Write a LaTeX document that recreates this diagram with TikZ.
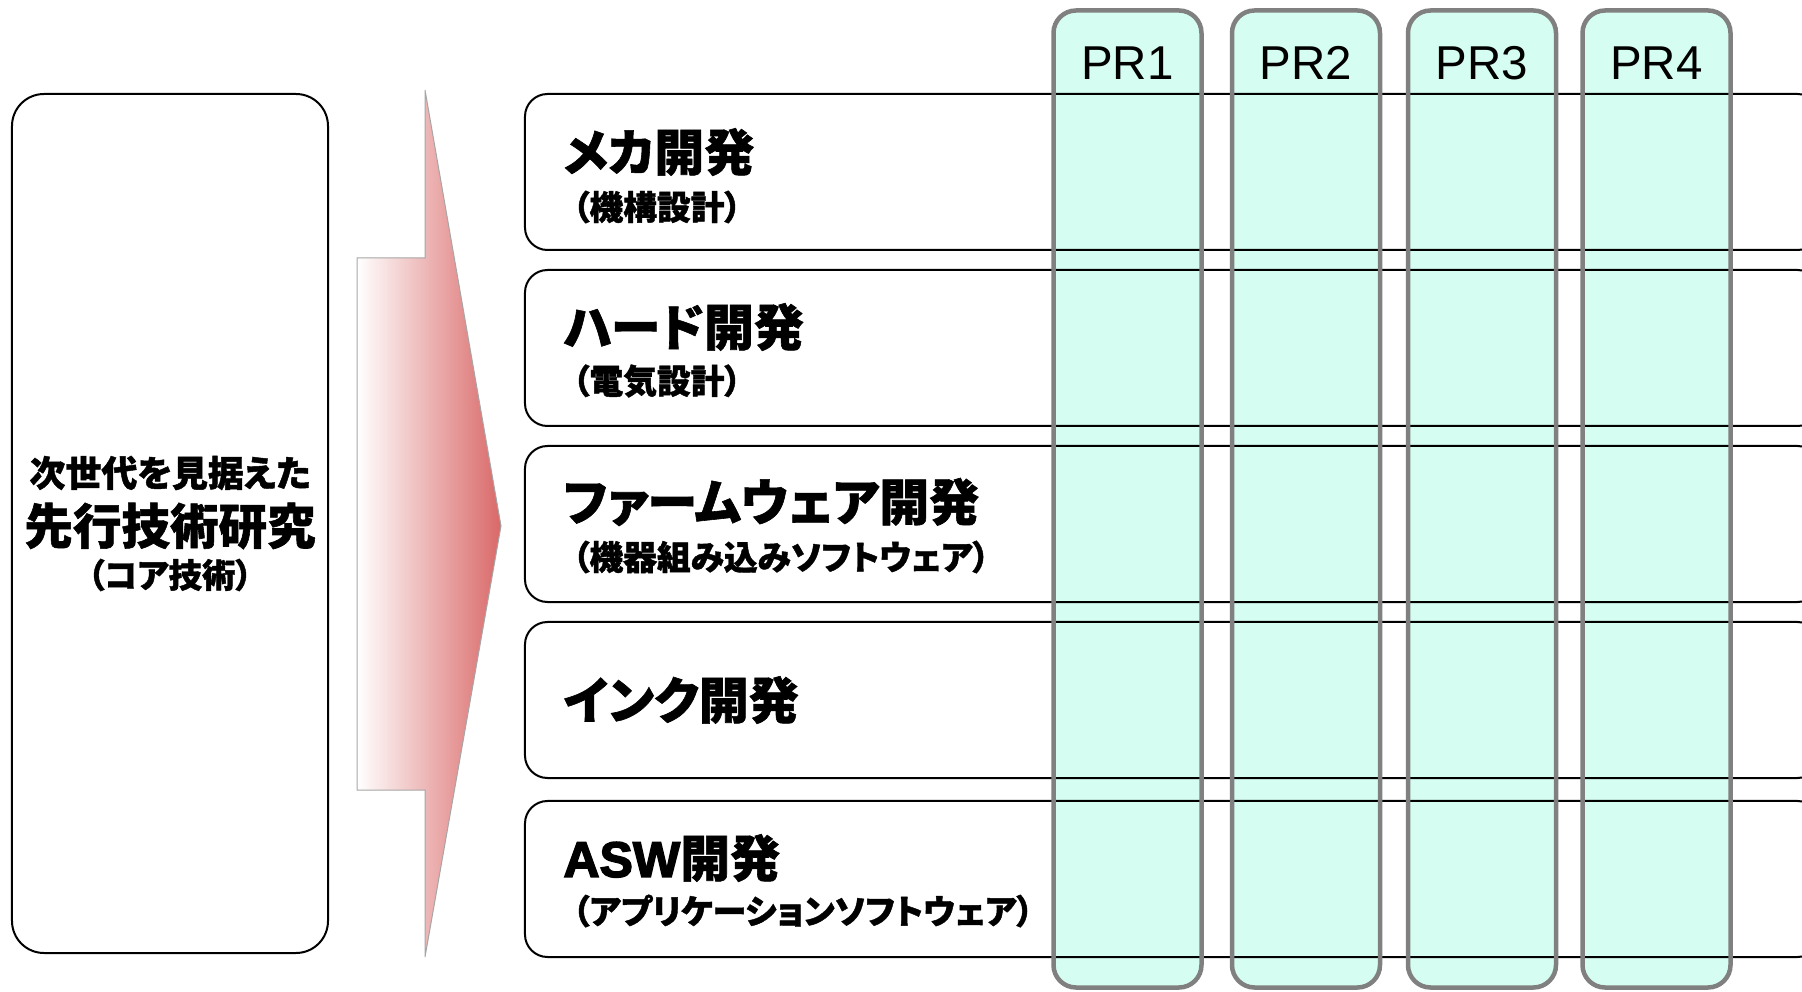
\documentclass[tikz,border=0pt]{standalone}
\usepackage{xcolor}
\usepackage{fontspec}
\setmainfont{Liberation Sans}
\newfontfamily\jpfont{Noto Sans CJK JP}[RawFeature=+palt, BoldFeatures={FakeBold=1.2}]
\newfontfamily\aswfont{Liberation Sans}[FakeBold=3]
\usepackage{tikz}
\usetikzlibrary{positioning}
\newcommand\jplp{\kern.3em（}
\newcommand\jprp{）\kern.3em}
\definecolor{prfill}{RGB}{214,253,242}
\definecolor{prgray}{RGB}{128,128,128}
\definecolor{arrowred}{RGB}{218,104,104}
\tikzstyle{corebox} = [draw, line width=0.8pt, rounded corners=12.8pt, minimum width=126.4pt, minimum height=343.6pt, inner sep=0pt]
\tikzstyle{devrow} = [draw, line width=0.8pt, rounded corners=9pt, minimum width=518pt, minimum height=62.4pt, inner sep=0pt]
\tikzstyle{prcol} = [fill=prfill, rounded corners=9pt, minimum width=58.8pt, minimum height=390.4pt, inner sep=0pt]
\tikzstyle{prframe} = [draw=prgray, line width=1.8pt, rounded corners=9pt]
\tikzstyle{bigarrow} = [draw=gray!70, line width=0.4pt, left color=white, right color=arrowred]
\tikzstyle{devmain} = [anchor=west, font=\jpfont\bfseries\fontsize{20}{24}\selectfont]
\tikzstyle{devsub} = [anchor=west, font=\jpfont\bfseries\fontsize{13.5}{16}\selectfont]

\begin{document}
\begin{tikzpicture}[x=0.4pt, y=-0.4pt, every node/.style={inner sep=0pt}]
\useasboundingbox (0,0) rectangle (1802,992);

% Core research box
\node (core) at (170,523.5) [corebox] {};
\node (coreA) at (170,473) [font=\jpfont\bfseries\fontsize{14.4}{17}\selectfont] {次世代を見据えた};
\node (coreB) at (170,526) [font=\jpfont\bfseries\fontsize{19.4}{23}\selectfont] {先行技術研究};
\node (coreC) at (170,575) [font=\jpfont\bfseries\fontsize{13.4}{15}\selectfont] {\kern.2em（コア技術）\kern.2em};

% Big gradient arrow
\draw [bigarrow] (357,258) -- (425,258) -- (425,90) -- (501,526) -- (425,957) -- (425,790) -- (357,790) -- cycle;

% Project columns (fill only)
\node (pr1) at (1127.5,499) [prcol] {};
\node (pr2) at (1306,499) [prcol] {};
\node (pr3) at (1482,499) [prcol] {};
\node (pr4) at (1656.5,499) [prcol] {};

% Development rows
\node (mecha) at (1172.5,172) [devrow] {};
\node (hard) at (1172.5,348) [devrow] {};
\node (firm) at (1172.5,524) [devrow] {};
\node (ink) at (1172.5,700) [devrow] {};
\node (asw) at (1172.5,879) [devrow] {};

% Column frames on top
\draw [prframe] (pr1.north west) rectangle (pr1.south east);
\draw [prframe] (pr2.north west) rectangle (pr2.south east);
\draw [prframe] (pr3.north west) rectangle (pr3.south east);
\draw [prframe] (pr4.north west) rectangle (pr4.south east);

% Column labels
\node (pr1lab) at (1127.5,63) [font=\fontsize{19}{23}\selectfont] {PR1};
\node (pr2lab) at (1306,63) [font=\fontsize{19}{23}\selectfont] {PR2};
\node (pr3lab) at (1482,63) [font=\fontsize{19}{23}\selectfont] {PR3};
\node (pr4lab) at (1656.5,63) [font=\fontsize{19}{23}\selectfont] {PR4};

% Row texts
\node (mechaA) at (563,152) [devmain] {メカ開発};
\node (mechaB) at (562,207) [devsub] {\jplp 機構設計\jprp};
\node (hardA) at (563,327) [devmain] {ハード開発};
\node (hardB) at (562,381) [devsub] {\jplp 電気設計\jprp};
\node (firmA) at (563,502) [devmain] {ファームウェア開発};
\node (firmB) at (562,557) [devsub] {\jplp 機器組み込みソフトウェア\jprp};
\node (inkA) at (563,700) [devmain] {インク開発};
\node (aswA) at (563,858) [devmain] {{\aswfont ASW}開発};
\node (aswB) at (562,911) [devsub] {\jplp アプリケーションソフトウェア\jprp};

\end{tikzpicture}
\end{document}
